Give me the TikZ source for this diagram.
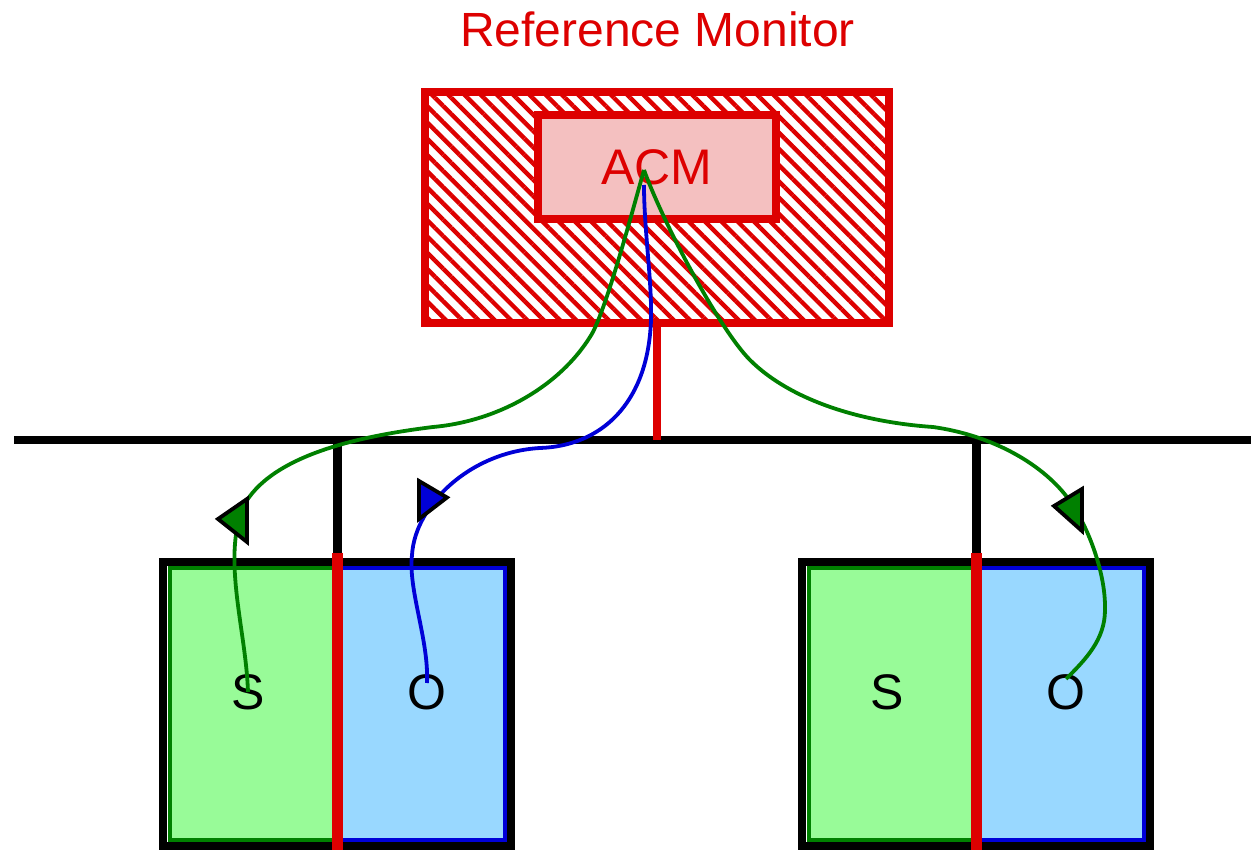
\documentclass[tikz,border=0pt]{standalone}
\usepackage{fontspec}
\setmainfont{Liberation Sans}
\usetikzlibrary{patterns.meta}
\definecolor{rmred}{RGB}{221,0,0}
\definecolor{acmpink}{RGB}{244,192,192}
\definecolor{subjgreen}{RGB}{152,251,152}
\definecolor{objblue}{RGB}{153,216,255}
\definecolor{flowgreen}{RGB}{0,128,0}
\definecolor{flowblue}{RGB}{0,0,215}

\begin{document}
\begin{tikzpicture}[x=1pt,y=-1pt,
	lbl/.style={inner sep=0pt, font=\fontsize{50}{60}\selectfont},
	monitor/.style={draw=rmred, line width=8pt, pattern={Lines[angle=-45,distance=11.5pt,line width=4.4pt]}, pattern color=rmred, minimum width=464pt, minimum height=230.5pt},
	acmbox/.style={lbl, draw=rmred, fill=acmpink, text=rmred, line width=8pt, minimum width=238.5pt, minimum height=103.5pt},
	frame/.style={draw=black, line width=8pt, minimum width=348pt, minimum height=284.5pt},
	half/.style={line width=4pt, minimum width=167.5pt, minimum height=271.5pt},
	bus/.style={draw=black, line width=8.5pt},
	divider/.style={draw=rmred, line width=11pt},
	flowg/.style={draw=flowgreen, line width=3.8pt},
	flowb/.style={draw=flowblue, line width=3.8pt},
	tipbox/.style={draw=black, line width=3.8pt, line join=miter}]

	\fill[white] (0,0) rectangle (1251,850);
	\useasboundingbox (0,0) rectangle (1251,850);

	\node [lbl, text=rmred, font=\fontsize{48}{58}\selectfont] (title) at (657.5,29) {Reference Monitor};
	\node [monitor] (rm) at (656.5,207.75) {};
	\node [acmbox] (acm) at (656.75,167.25) {ACM};
	\coordinate (tipg) at (644,170);
	\coordinate (tipb) at (644,185);

	\coordinate (busL) at (14,440);
	\coordinate (busR) at (1251,440);
	\draw [bus] (busL) -- (busR);
	\draw [rmred, line width=8pt] (rm.south) -- (rm.south |- busL);

	\foreach \i/\dx in {1/0,2/639} {
		\node [frame] (f\i) at (337+\dx,703.75) {};
		\node [half, draw=flowgreen, fill=subjgreen] (g\i) at (253.25+\dx,703.75) {};
		\node [half, draw=flowblue, fill=objblue, minimum width=168pt] (b\i) at (421+\dx,703.75) {};
		\draw [bus, line width=9pt] (f\i.north |- busL) -- (f\i.north);
		\draw [divider, shorten <=-5pt] (f\i.north) -- (f\i.south);
		\node [lbl] (s\i) at (248+\dx,692) {S};
		\node [lbl] (o\i) at (427+\dx,692) {O};
	}

	\draw [flowg] (s1.center) .. controls (246,630) and (222,560) .. (243,507)
		.. controls (270,455) and (360,436) .. (433,427)
		.. controls (500,421) and (560,385) .. (590,337)
		.. controls (605,315) and (634,205) .. (tipg);
	\draw [flowb] ([yshift=9pt]o1.center) .. controls (429,640) and (408,590) .. (412,555)
		.. controls (415,505) and (470,452) .. (540,448)
		.. controls (600,446) and (648,405) .. (651,320)
		.. controls (652,280) and (644,230) .. (tipb);
	\draw [flowg] (tipg) .. controls (664,225) and (720,330) .. (750,360)
		.. controls (790,400) and (860,422) .. (933,427)
		.. controls (990,435) and (1040,462) .. (1067,497)
		.. controls (1085,520) and (1106,570) .. (1105,610)
		.. controls (1105,640) and (1085,660) .. ([yshift=13pt]o2.center);

	\filldraw [tipbox, fill=flowgreen] (247,499) -- (218,519) -- (247,542) -- cycle;
	\filldraw [tipbox, fill=flowblue] (419,481) -- (447,497.5) -- (419,519) -- cycle;
	\filldraw [tipbox, fill=flowgreen] (1082,489) -- (1054,506) -- (1082,531) -- cycle;

\end{tikzpicture}
\end{document}
